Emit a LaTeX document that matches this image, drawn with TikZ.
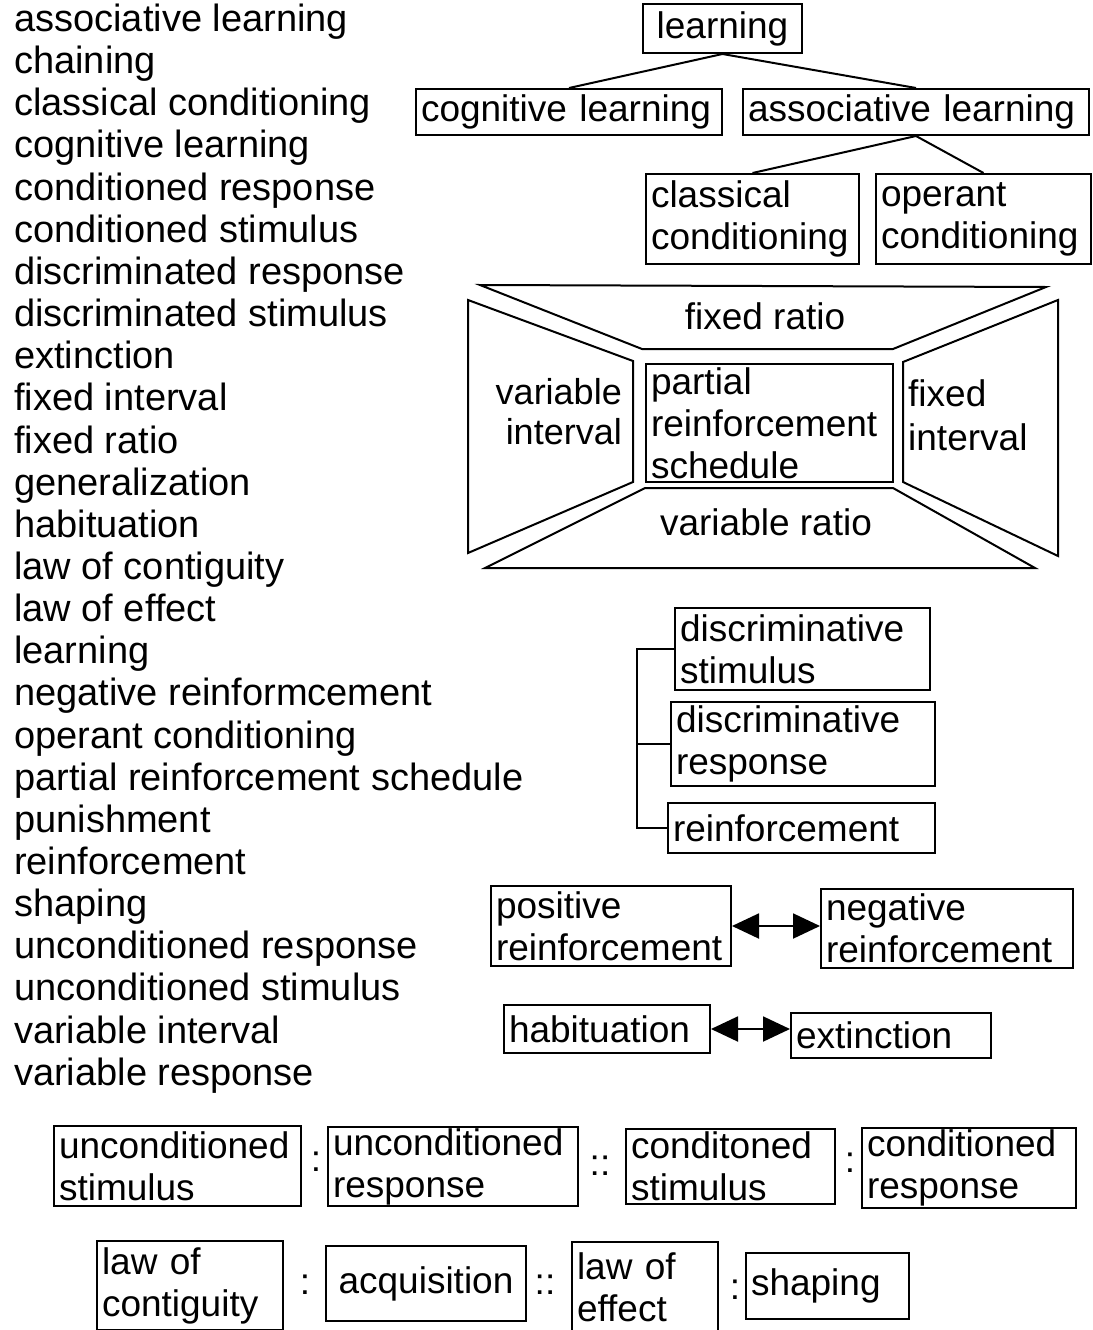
\documentclass[tikz,border=0pt]{standalone}
\usepackage{fontspec}
\setmainfont{Liberation Sans}
\usetikzlibrary{arrows.meta}
\tikzset{
  ln/.style={line width=2pt, line join=miter},
  bx/.style={draw, line width=2pt, rectangle, inner xsep=5pt, inner ysep=0pt,
             anchor=north west, font=\fontsize{37}{42}\selectfont},
  txt/.style={inner sep=0pt, font=\fontsize{37}{42}\selectfont},
  lst/.style={inner sep=0pt, anchor=base west, font=\fontsize{38}{42}\selectfont},
  dbl/.style={line width=2pt, {Triangle[length=27pt,width=25pt]}-{Triangle[length=27pt,width=25pt]}}
}
\newcommand{\bxn}[7][left]{%
  \pgfmathsetmacro{\myw}{#4-#2-10}%
  \pgfmathsetmacro{\myh}{#5-#3}%
  \node[bx, align=#1, text width=\myw pt, minimum height=\myh pt] (#6) at (#2,#3) {#7};}
\begin{document}
\begin{tikzpicture}[x=1pt,y=-1pt]
\useasboundingbox (0,0) rectangle (1092,1330);
% left list
\foreach \t [count=\i] in {associative learning, chaining, classical conditioning,
  cognitive learning, conditioned response, conditioned stimulus,
  discriminated response, discriminated stimulus, extinction, fixed interval,
  fixed ratio, generalization, habituation, law of contiguity, law of effect,
  learning, negative reinformcement, operant conditioning,
  partial reinforcement schedule, punishment, reinforcement, shaping,
  unconditioned response, unconditioned stimulus, variable interval,
  variable response}
  {\node[lst] (l\i) at (14,{31.5+42.15*(\i-1)}) {\t};}
% tree
\bxn[center]{642}{3}{801}{52}{learning}{learning}
\bxn{415}{88}{721}{134}{cog}{cognitive learning}
\bxn{742}{88}{1088}{134}{assoc}{associative learning}
\bxn{645}{173}{858}{263}{classical}{classical\\conditioning}
\bxn{875}{173}{1090}{263}{operant}{operant\\conditioning}
\draw[ln] (cog.north) -- (learning.south) -- (assoc.north);
\draw[ln] (classical.north) -- (assoc.south) -- (operant.north);
% schedule frame
\draw[ln] (480,285) -- (1046,287) -- (893,349) -- (642,349) -- cycle;
\draw[ln] (468,300) -- (633,361) -- (633,482) -- (468,553) -- cycle;
\draw[ln] (903,362) -- (1058,300) -- (1058,556) -- (903,482) -- cycle;
\draw[ln] (645,488) -- (893,488) -- (1035,568) -- (485,568) -- cycle;
\bxn{645}{363}{892}{481}{partial}{partial\\reinforcement\\schedule}
\node[txt] (fr) at (765,316) {fixed ratio};
\node[txt, align=right, anchor=north east, font=\fontsize{36}{40}\selectfont] (vi) at (622,378) {variable\\interval};
\node[txt, align=left, anchor=north west, font=\fontsize{37}{44}\selectfont] (fi) at (908,379) {fixed\\interval};
\node[txt] (vr) at (766,522) {variable ratio};
% discriminative group
\bxn{674}{607}{929}{689}{dstim}{discriminative\\stimulus}
\bxn{670}{701}{934}{785}{dresp}{discriminative\\response}
\bxn{667}{802}{934}{852}{reinf}{reinforcement}
\coordinate (bk) at (637,700);
\draw[ln] (dstim.west) -- (dstim.west -| bk) -- (reinf.west -| bk) -- (reinf.west);
\draw[ln] (dresp.west -| bk) -- (dresp.west);
% reinforcement pair
\bxn{490}{885}{730}{965}{pos}{positive\\reinforcement}
\bxn{820}{888}{1072}{967}{neg}{negative\\reinforcement}
\draw[dbl] (pos.east) -- (pos.east -| neg.west);
\bxn{503}{1004}{709}{1052}{hab}{habituation}
\bxn{790}{1012}{990}{1057}{ext}{extinction}
\draw[dbl] (hab.east) -- (hab.east -| ext.west);
% analogy rows
\bxn{53}{1125}{300}{1205}{us}{unconditioned\\stimulus}
\bxn{327}{1126}{577}{1205}{ur}{unconditioned\\response}
\bxn{625}{1128}{834}{1203}{cs}{conditoned\\stimulus}
\bxn{861}{1127}{1075}{1207}{cr}{conditioned\\response}
\node[txt] (p1) at (316,1162) {:};
\node[txt] (p2) at (600,1166) {::};
\node[txt] (p3) at (850,1163) {:};
\bxn{96}{1240}{282}{1329}{lc}{law of\\contiguity}
\bxn[center]{325}{1245}{525}{1320}{acq}{acquisition}
\bxn{571}{1241}{717}{1332}{le}{law of\\effect}
\bxn{745}{1252}{908}{1318}{shp}{shaping}
\node[txt] (p4) at (305,1285) {:};
\node[txt] (p5) at (545,1285) {::};
\node[txt] (p6) at (735,1290) {:};
\end{tikzpicture}
\end{document}
